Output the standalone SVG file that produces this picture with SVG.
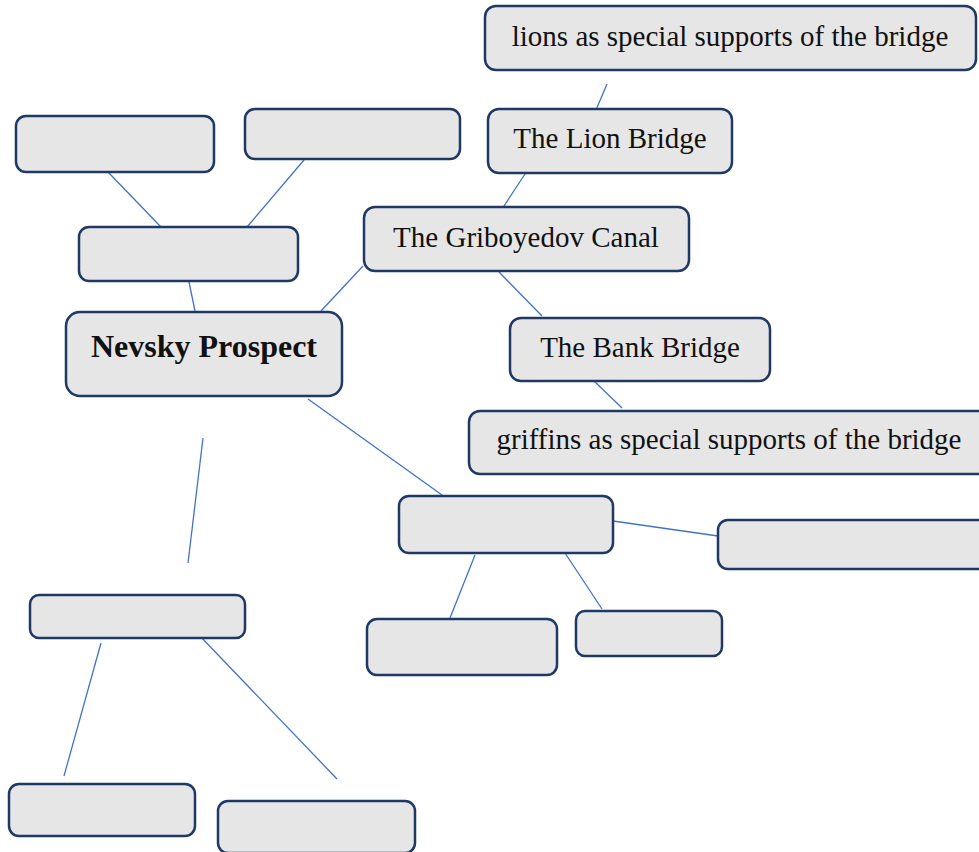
<svg xmlns="http://www.w3.org/2000/svg" width="979" height="852" viewBox="0 0 979 852">
<style>
.box{fill:#e6e6e6;stroke:#1f3864;stroke-width:2.5}
.lbl{font-family:"Liberation Serif","Times New Roman",serif;font-size:29px;fill:#111;text-anchor:middle}
.bold{font-weight:bold;font-size:32px}
.conn line{stroke:#4472c4;stroke-width:1.3}
</style>
<rect width="979" height="852" fill="#fff"/>
<g class="conn" id="connectors">
<line x1="607" y1="84" x2="593" y2="117"/>
<line x1="525" y1="174" x2="504" y2="206"/>
<line x1="499" y1="272" x2="542" y2="316"/>
<line x1="594" y1="381" x2="622" y2="408"/>
<line x1="108" y1="172" x2="161" y2="227"/>
<line x1="304" y1="160" x2="247" y2="227"/>
<line x1="189" y1="282" x2="195" y2="311"/>
<line x1="321" y1="311" x2="363" y2="266"/>
<line x1="308" y1="399" x2="442" y2="495"/>
<line x1="613" y1="521" x2="718" y2="536"/>
<line x1="475" y1="555" x2="450" y2="618"/>
<line x1="563" y1="550" x2="602" y2="609"/>
<line x1="203" y1="438" x2="188" y2="563"/>
<line x1="101" y1="643" x2="64" y2="776"/>
<line x1="199" y1="635" x2="337" y2="779"/>
</g>
<g id="lions"><rect class="box" x="485" y="6" width="491" height="64" rx="11"/><text class="lbl" x="730" y="46">lions as special supports of the bridge</text></g>
<g id="lion-bridge"><rect class="box" x="488" y="109" width="244" height="64" rx="11"/><text class="lbl" x="610" y="148">The Lion Bridge</text></g>
<g id="griboyedov"><rect class="box" x="364" y="207" width="325" height="64" rx="11"/><text class="lbl" x="526" y="247">The Griboyedov Canal</text></g>
<g id="bank-bridge"><rect class="box" x="510" y="318" width="260" height="63" rx="11"/><text class="lbl" x="640" y="357">The Bank Bridge</text></g>
<g id="griffins"><rect class="box" x="469" y="411" width="522" height="63" rx="11"/><text class="lbl" x="729" y="449">griffins as special supports of the bridge</text></g>
<g id="nevsky"><rect class="box" x="66" y="312" width="276" height="84" rx="14"/><text class="lbl bold" x="204" y="357">Nevsky Prospect</text></g>
<g id="box-a"><rect class="box" x="16" y="116" width="198" height="56" rx="10"/></g>
<g id="box-b"><rect class="box" x="245" y="109" width="215" height="50" rx="10"/></g>
<g id="box-c"><rect class="box" x="79" y="227" width="219" height="54" rx="10"/></g>
<g id="box-d"><rect class="box" x="399" y="496" width="214" height="57" rx="10"/></g>
<g id="box-e"><rect class="box" x="718" y="520" width="273" height="49" rx="10"/></g>
<g id="box-f"><rect class="box" x="367" y="619" width="190" height="56" rx="10"/></g>
<g id="box-g"><rect class="box" x="576" y="611" width="146" height="45" rx="9"/></g>
<g id="box-h"><rect class="box" x="30" y="595" width="215" height="43" rx="9"/></g>
<g id="box-i"><rect class="box" x="9" y="784" width="186" height="52" rx="10"/></g>
<g id="box-j"><rect class="box" x="218" y="801" width="197" height="52" rx="10"/></g>
</svg>
